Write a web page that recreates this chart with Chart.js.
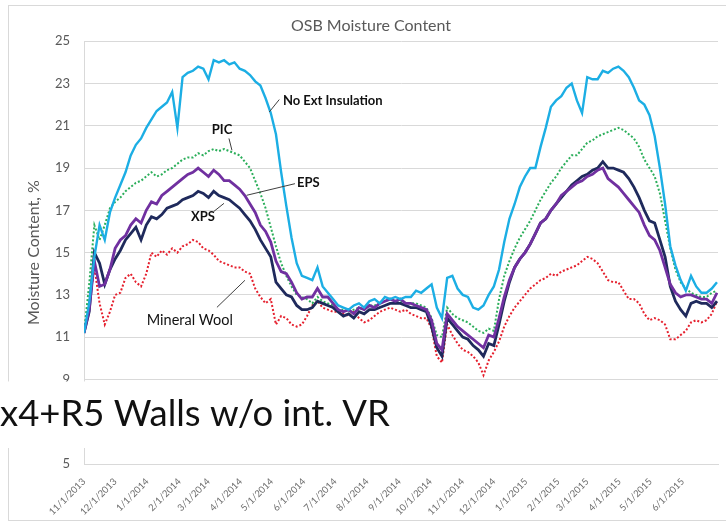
<!DOCTYPE html>
<html>
<head>
<meta charset="utf-8">
<script src="https://cdn.jsdelivr.net/npm/chart.js@4.4.0/dist/chart.umd.min.js"></script>
<style>
  html, body { margin: 0; padding: 0; background: #fff; }
  #wrap { width: 726px; height: 529px; }
</style>
</head>
<body>
<div id="wrap"><canvas id="chart" width="726" height="529"></canvas></div>
<script>
// x = days since 11/1/2013, one reading every 5 days
const days = Array.from({ length: 123 }, (_, i) => i * 5);

const monthTicks = [0, 30, 61, 92, 120, 151, 181, 212, 242, 273, 304, 334, 365, 395, 426, 457, 485, 516, 546, 577];
const monthLabels = ['11/1/2013', '12/1/2013', '1/1/2014', '2/1/2014', '3/1/2014', '4/1/2014', '5/1/2014',
  '6/1/2014', '7/1/2014', '8/1/2014', '9/1/2014', '10/1/2014', '11/1/2014', '12/1/2014', '1/1/2015',
  '2/1/2015', '3/1/2015', '4/1/2015', '5/1/2015', '6/1/2015'];

const yTicks = [5, 7, 9, 11, 13, 15, 17, 19, 21, 23, 25];

const noExtInsulation = [
  11.2, 12.6, 14.8, 16.3, 15.6, 16.9, 17.6, 18.2, 18.8, 19.6,
  20.1, 20.4, 20.9, 21.3, 21.7, 21.9, 22.1, 22.6, 20.9, 23.3,
  23.5, 23.6, 23.8, 23.7, 23.2, 24.1, 24.0, 24.1, 23.9, 24.0,
  23.7, 23.6, 23.4, 23.1, 22.9, 22.3, 21.6, 20.6, 18.8, 17.2,
  15.7, 14.5, 13.9, 13.8, 13.7, 14.3, 13.4, 13.1, 12.8, 12.5,
  12.4, 12.3, 12.5, 12.6, 12.4, 12.7, 12.8, 12.6, 12.9, 12.8,
  12.9, 12.8, 12.9, 12.9, 13.2, 13.1, 13.3, 13.5, 12.4, 11.9,
  13.8, 13.9, 13.3, 13.0, 12.9, 12.4, 12.3, 12.5, 13.0, 13.4,
  14.2, 15.5, 16.6, 17.3, 18.1, 18.6, 19.0, 19.0, 20.0, 20.9,
  21.9, 22.2, 22.4, 22.8, 23.0, 22.2, 21.6, 23.3, 23.2, 23.2,
  23.6, 23.5, 23.7, 23.8, 23.6, 23.3, 22.8, 22.2, 22.0, 21.5,
  20.5, 19.0, 17.3, 15.3, 14.4, 13.7, 13.2, 13.9, 13.4, 13.1,
  13.1, 13.3, 13.6
];

const pic = [
  11.2, 13.5, 16.3, 15.6, 16.3, 17.1, 17.4, 17.6, 17.9, 18.1,
  18.3, 18.4, 18.6, 18.8, 18.6, 18.7, 18.9, 19.0, 19.2, 19.4,
  19.5, 19.5, 19.7, 19.6, 19.8, 19.9, 19.8, 19.9, 19.8, 19.7,
  19.6, 19.3, 19.0, 18.4, 17.8, 17.1, 16.2, 15.3, 14.5, 13.9,
  13.4, 13.0, 12.9, 12.8, 12.6, 12.9, 12.7, 12.6, 12.5, 12.3,
  12.3, 12.2, 12.3, 12.4, 12.3, 12.5, 12.5, 12.6, 12.7, 12.8,
  12.7, 12.7, 12.6, 12.6, 12.6, 12.5, 12.4, 11.9, 11.1, 11.0,
  12.4, 12.1, 11.9, 11.8, 11.7, 11.5, 11.3, 11.2, 11.4, 11.3,
  12.8, 13.9, 14.6, 15.2, 15.7, 16.1, 16.5, 17.0, 17.5, 17.9,
  18.3, 18.6, 19.0, 19.3, 19.6, 19.6, 19.9, 20.2, 20.3, 20.5,
  20.6, 20.7, 20.8, 20.9, 20.8, 20.6, 20.4, 20.0, 19.4, 19.0,
  18.6, 17.8, 16.5, 15.2, 14.2, 13.6, 13.3, 13.1, 13.0, 12.9,
  12.9, 13.1, 13.2
];

const eps = [
  11.2, 12.3, 14.6, 13.4, 13.5, 14.2, 15.2, 15.6, 15.8, 16.3,
  16.6, 16.4, 17.0, 17.4, 17.3, 17.7, 17.9, 18.1, 18.3, 18.5,
  18.7, 18.8, 19.0, 18.8, 18.6, 18.9, 18.7, 18.4, 18.4, 18.2,
  18.0, 17.7, 17.3, 16.9, 16.3, 16.0, 15.5, 14.6, 14.1, 14.0,
  13.6, 13.1, 12.8, 12.9, 12.9, 13.3, 12.9, 12.9, 12.6, 12.3,
  12.2, 12.3, 12.1, 12.4, 12.3, 12.5, 12.4, 12.6, 12.7, 12.8,
  12.7, 12.8, 12.6, 12.6, 12.5, 12.4, 12.3, 11.8, 10.7, 10.4,
  12.1, 11.8, 11.5, 11.3, 11.1, 10.9, 10.7, 10.5, 11.1, 11.0,
  11.9, 12.9, 13.7, 14.3, 14.7, 15.0, 15.4, 15.9, 16.4, 16.6,
  17.0, 17.3, 17.7, 17.9, 18.1, 18.3, 18.4, 18.6, 18.7, 18.9,
  19.0, 18.5, 18.3, 18.1, 17.8, 17.5, 17.2, 16.9, 16.3, 15.8,
  15.6, 15.1, 14.3, 13.5, 13.1, 12.9, 13.0, 13.0, 12.9, 12.8,
  12.8, 12.6, 13.1
];

const xps = [
  11.2, 12.2, 15.0, 14.5, 13.5, 14.2, 14.7, 15.1, 15.6, 15.9,
  16.2, 15.6, 16.3, 16.7, 16.6, 16.8, 17.1, 17.2, 17.3, 17.5,
  17.6, 17.7, 17.9, 17.8, 17.6, 17.9, 17.7, 17.6, 17.5, 17.3,
  17.1, 16.8, 16.5, 16.1, 15.6, 15.2, 14.8, 13.6, 13.3, 13.0,
  12.9, 12.5, 12.3, 12.3, 12.4, 12.7, 12.6, 12.5, 12.4, 12.2,
  12.0, 12.1, 11.9, 12.2, 12.1, 12.3, 12.3, 12.4, 12.5, 12.6,
  12.6, 12.6, 12.5, 12.4, 12.4, 12.3, 12.2, 11.5, 10.5, 10.1,
  11.9, 11.6, 11.3, 11.0, 10.9, 10.6, 10.4, 10.1, 10.7, 10.6,
  11.6, 12.7, 13.6, 14.3, 14.7, 15.0, 15.4, 15.9, 16.4, 16.6,
  17.0, 17.3, 17.6, 17.9, 18.2, 18.4, 18.6, 18.7, 18.9, 19.0,
  19.3, 19.0, 19.0, 18.9, 18.8, 18.5, 18.1, 17.6, 17.0, 16.5,
  16.4, 15.6, 14.8, 13.4, 12.7, 12.3, 12.0, 12.6, 12.7, 12.6,
  12.6, 12.4, 12.7
];

const mineralWool = [
  11.2, 12.6, 14.3, 12.6, 11.6, 12.2, 13.0, 13.1, 13.8, 14.0,
  13.6, 13.4, 14.0, 15.0, 14.8, 15.1, 14.9, 15.2, 15.0, 15.3,
  15.4, 15.6, 15.5, 15.2, 15.1, 14.9, 14.6, 14.5, 14.4, 14.3,
  14.3, 14.1, 14.0, 13.3, 12.9, 12.6, 12.8, 11.6, 12.0, 11.9,
  11.6, 11.5, 11.6, 12.0, 12.5, 12.7, 12.4, 12.3, 12.2, 12.2,
  12.1, 12.0, 12.2, 11.9, 11.7, 11.8, 12.0, 12.2, 12.3, 12.4,
  12.3, 12.2, 12.3, 12.1, 12.0, 11.9, 11.9, 11.4, 10.1, 9.8,
  11.6, 11.1, 10.7, 10.4, 10.3, 10.1, 9.8, 9.2, 9.9, 10.3,
  10.8, 11.5, 12.0, 12.4, 12.7, 13.0, 13.3, 13.5, 13.7, 13.8,
  14.0, 13.9, 14.1, 14.2, 14.3, 14.4, 14.6, 14.8, 14.7, 14.5,
  14.1, 13.7, 13.6, 13.6, 13.2, 12.8, 12.8, 12.6, 12.1, 11.8,
  11.9, 11.8, 11.6, 10.9, 10.9, 11.1, 11.3, 11.7, 11.8, 11.7,
  11.8, 12.1, 12.7
];

// in-chart series labels with leader lines, in data units (day, %)
const seriesLabels = [
  { text: 'No Ext Insulation', at: [191.7, 22.16], align: 'left', bold: true, line: [[178.5, 21.65], [188.2, 22.24]] },
  { text: 'PIC', at: [133, 20.79], align: 'center', bold: true, line: [[139.7, 20.4], [142.6, 19.84]] },
  { text: 'EPS', at: [205.2, 18.28], align: 'left', bold: true, line: [[156.7, 17.71], [203.3, 18.26]] },
  { text: 'XPS', at: [114.6, 16.67], align: 'center', bold: true, line: [[125.2, 16.95], [134.9, 17.33]] },
  { text: 'Mineral Wool', at: [102, 11.79], align: 'center', bold: false, line: [[128.1, 12.41], [155.1, 13.69]] }
];

const slideText = 'x4+R5 Walls w/o int. VR';

const FONT = 'Lato, "Open Sans", sans-serif';

function toPoints(values) {
  return values.map((v, i) => ({ x: days[i], y: v }));
}

const frame = {
  id: 'frame',
  beforeDraw(chart) {
    const ctx = chart.ctx;
    ctx.save();
    ctx.fillStyle = '#fff';
    ctx.fillRect(0, 0, chart.width, chart.height);
    ctx.strokeStyle = '#D9D9D9';
    ctx.lineWidth = 1;
    ctx.strokeRect(8.5, 5.5, chart.width, 515);
    ctx.restore();
  }
};

const labelsPlugin = {
  id: 'seriesLabels',
  afterDatasetsDraw(chart) {
    const { ctx, scales: { x, y } } = chart;
    ctx.save();
    ctx.strokeStyle = '#404040';
    ctx.lineWidth = 1;
    ctx.fillStyle = '#111';
    ctx.textBaseline = 'middle';
    seriesLabels.forEach(l => {
      ctx.beginPath();
      ctx.moveTo(x.getPixelForValue(l.line[0][0]), y.getPixelForValue(l.line[0][1]));
      ctx.lineTo(x.getPixelForValue(l.line[1][0]), y.getPixelForValue(l.line[1][1]));
      ctx.stroke();
      ctx.font = (l.bold ? 'bold 13px ' : '14.5px ') + FONT;
      ctx.textAlign = l.align;
      ctx.fillText(l.text, x.getPixelForValue(l.at[0]), y.getPixelForValue(l.at[1]));
    });
    ctx.restore();
  }
};

// slide caption that sits over the lower part of the chart
const slideOverlay = {
  id: 'slideOverlay',
  afterDraw(chart) {
    const { ctx, scales: { y } } = chart;
    const top = y.getPixelForValue(9) + 2;
    const bottom = y.getPixelForValue(5) - 16;
    ctx.save();
    ctx.fillStyle = '#fff';
    ctx.fillRect(0, top, chart.width, bottom - top);
    let size = 40;
    ctx.font = size + 'px ' + FONT;
    size = size * 390 / ctx.measureText(slideText).width;
    ctx.font = size + 'px ' + FONT;
    ctx.fillStyle = '#111';
    ctx.textAlign = 'left';
    ctx.textBaseline = 'alphabetic';
    ctx.fillText(slideText, 0, y.getPixelForValue(6.82));
    ctx.restore();
  }
};

new Chart(document.getElementById('chart'), {
  type: 'line',
  data: {
    datasets: [
      { label: 'No Ext Insulation', data: toPoints(noExtInsulation), borderColor: '#1CAEE4', borderWidth: 2.4, order: 0 },
      { label: 'EPS', data: toPoints(eps), borderColor: '#7030A0', borderWidth: 2.8, order: 1 },
      { label: 'XPS', data: toPoints(xps), borderColor: '#1F2A5C', borderWidth: 2.8, order: 2 },
      { label: 'PIC', data: toPoints(pic), borderColor: '#2BAE5A', borderWidth: 2, borderDash: [2, 2], order: 3 },
      { label: 'Mineral Wool', data: toPoints(mineralWool), borderColor: '#E5202E', borderWidth: 2, borderDash: [2, 2], order: 4 }
    ]
  },
  options: {
    responsive: false,
    animation: false,
    devicePixelRatio: 1,
    layout: { padding: { left: 24, right: 8, top: 0, bottom: 0 } },
    elements: { point: { radius: 0 }, line: { tension: 0, fill: false } },
    plugins: {
      legend: { display: false },
      tooltip: { enabled: false },
      title: {
        display: true,
        text: 'OSB Moisture Content',
        color: '#595959',
        font: { family: FONT, size: 16, weight: 'normal' },
        padding: { top: 16, bottom: 6 }
      }
    },
    scales: {
      x: {
        type: 'linear',
        min: 0,
        max: 611,
        grid: { display: false },
        border: { display: true, color: '#D9D9D9' },
        afterBuildTicks: s => { s.ticks = monthTicks.map(v => ({ value: v })); },
        afterFit: s => { s.height = 65; },
        ticks: {
          autoSkip: false,
          minRotation: 45,
          maxRotation: 45,
          padding: 4,
          color: '#6E6E6E',
          font: { family: FONT, size: 9.5 },
          callback: (v, i) => monthLabels[i]
        }
      },
      y: {
        min: 5,
        max: 25,
        afterBuildTicks: s => { s.ticks = yTicks.map(v => ({ value: v })); },
        afterFit: s => { s.width = 60; },
        grid: { color: '#D9D9D9', drawTicks: false },
        border: { display: true, color: '#D9D9D9' },
        ticks: {
          padding: 14,
          color: '#595959',
          font: { family: FONT, size: 13 }
        },
        title: {
          display: true,
          text: 'Moisture Content, %',
          color: '#595959',
          font: { family: FONT, size: 16 },
          padding: { top: 0 }
        }
      }
    }
  },
  plugins: [frame, labelsPlugin, slideOverlay]
});
</script>
</body>
</html>
